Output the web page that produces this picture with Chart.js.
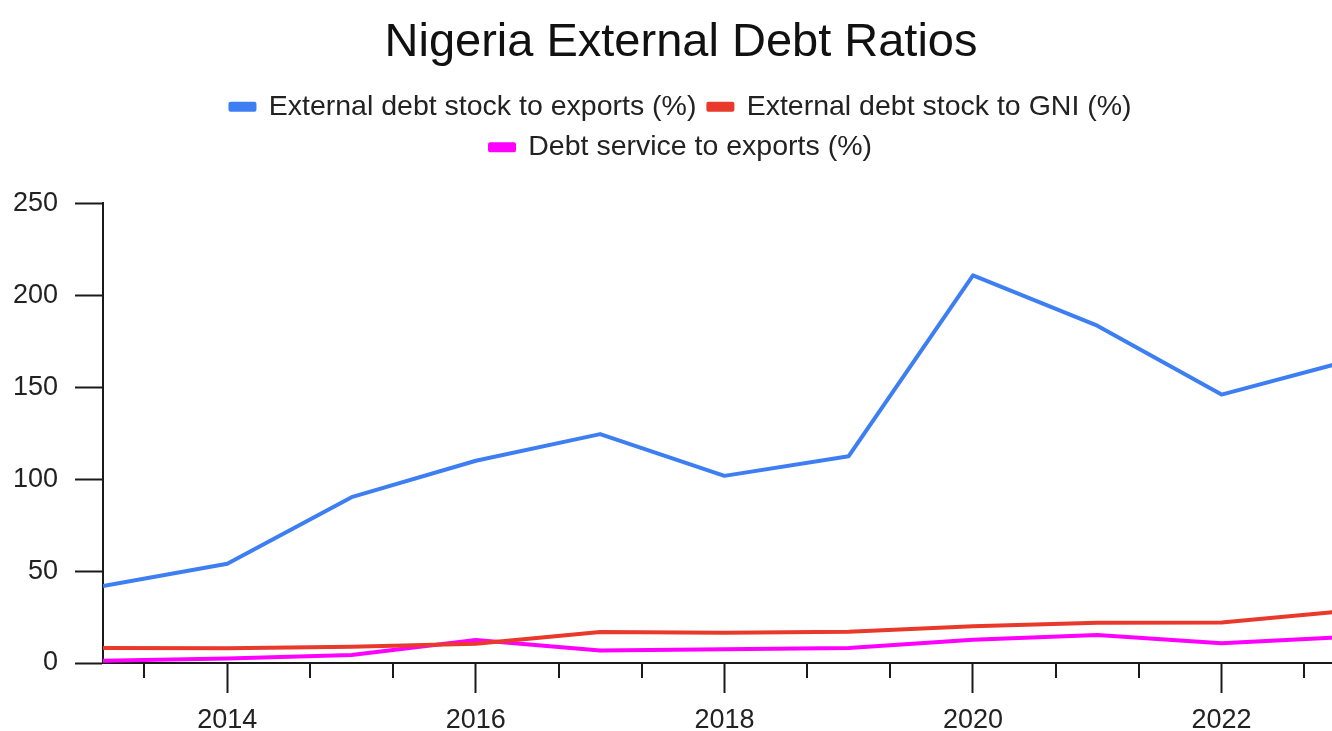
<!DOCTYPE html>
<html>
<head>
<meta charset="utf-8">
<title>Nigeria External Debt Ratios</title>
<script src="https://cdn.jsdelivr.net/npm/chart.js@4.4.1/dist/chart.umd.min.js"></script>
<style>
  html, body { margin: 0; padding: 0; background: #fff; overflow: hidden; }
  #chart { display: block; }
</style>
</head>
<body>
<canvas id="chart" width="1362" height="731"></canvas>
<script>
var years = [2013, 2014, 2015, 2016, 2017, 2018, 2019, 2020, 2021, 2022, 2023];
var debtToExports = [41.8, 54, 90.2, 110, 124.5, 101.8, 112.5, 210.9, 183.5, 146, 164];
var debtToGni = [8.1, 8, 8.8, 10.5, 16.8, 16.5, 17, 20, 21.9, 22, 28.3];
var serviceToExports = [1.2, 2.4, 4.3, 12.5, 6.8, 7.5, 8.2, 12.6, 15.2, 10.8, 14.2];
var yTicks = [0, 50, 100, 150, 200, 250];
var labelYears = [2014, 2016, 2018, 2020, 2022];

var FONT = '"Liberation Sans", Arial, Helvetica, sans-serif';
var INK = '#1a1a1a';

function points(values) {
    return years.map(function(y, i) { return { x: y, y: values[i] }; });
}

// short ticks a third of the way between the labelled years
var minorTicks = [];
labelYears.forEach(function(y) {
    minorTicks.push(y - 2 / 3, y + 2 / 3);
});

var minorTickPlugin = {
    id: 'minorTicks',
    afterDraw: function(chart) {
        var x = chart.scales.x;
        var ctx = chart.ctx;
        ctx.save();
        ctx.strokeStyle = INK;
        ctx.lineWidth = 2;
        minorTicks.forEach(function(v) {
            if (v < x.min || v > x.max) return;
            var px = Math.round(x.getPixelForValue(v));
            ctx.beginPath();
            ctx.moveTo(px, x.top);
            ctx.lineTo(px, x.top + 15);
            ctx.stroke();
        });
        ctx.restore();
    }
};

// wrap the legend onto two rows and leave room before the plot
var legendGapPlugin = {
    id: 'legendGap',
    beforeInit: function(chart) {
        var fit = chart.legend.fit;
        chart.legend.fit = function() {
            this.maxWidth = Math.min(this.maxWidth, 1150);
            fit.call(this);
            this.height += 32;
        };
    }
};

function series(label, values, color) {
    return {
        label: label,
        data: points(values),
        borderColor: color,
        backgroundColor: color,
        borderWidth: 4,
        borderJoinStyle: 'round',
        pointRadius: 0,
        tension: 0,
        fill: false
    };
}

new Chart(document.getElementById('chart'), {
    type: 'line',
    data: {
        datasets: [
            series('External debt stock to exports (%)', debtToExports, '#3d7ff2'),
            series('External debt stock to GNI (%)', debtToGni, '#e8392b'),
            series('Debt service to exports (%)', serviceToExports, '#ff00ff')
        ]
    },
    options: {
        responsive: false,
        animation: false,
        layout: { padding: 0 },
        plugins: {
            title: {
                display: true,
                text: 'Nigeria External Debt Ratios',
                color: '#111',
                font: { family: FONT, size: 47, weight: 'normal' },
                padding: { top: 15, bottom: 9 }
            },
            legend: {
                display: true,
                position: 'top',
                labels: {
                    color: '#222',
                    font: { family: FONT, size: 28.5 },
                    boxWidth: 24,
                    boxHeight: 6,
                    padding: 12
                }
            },
            tooltip: { enabled: false }
        },
        scales: {
            x: {
                type: 'linear',
                min: 2013,
                max: 2023.13,
                afterBuildTicks: function(scale) {
                    scale.ticks = labelYears.map(function(v) { return { value: v }; });
                },
                afterFit: function(scale) { scale.height = 68; },
                ticks: {
                    color: '#222',
                    font: { family: FONT, size: 27 },
                    padding: 11,
                    maxRotation: 0,
                    callback: function(v) { return String(v); }
                },
                grid: {
                    drawOnChartArea: false,
                    drawTicks: true,
                    tickLength: 30,
                    tickWidth: 2,
                    tickColor: INK
                },
                border: { display: true, color: INK, width: 2 }
            },
            y: {
                min: 0,
                max: 250,
                afterBuildTicks: function(scale) {
                    scale.ticks = yTicks.map(function(v) { return { value: v }; });
                },
                afterFit: function(scale) { scale.width = 103; },
                ticks: {
                    color: '#222',
                    font: { family: FONT, size: 27 },
                    padding: 17
                },
                grid: {
                    drawOnChartArea: false,
                    drawTicks: true,
                    tickLength: 28,
                    tickWidth: 2,
                    tickColor: INK
                },
                border: { display: true, color: INK, width: 2 }
            }
        }
    },
    plugins: [minorTickPlugin, legendGapPlugin]
});
</script>
</body>
</html>
